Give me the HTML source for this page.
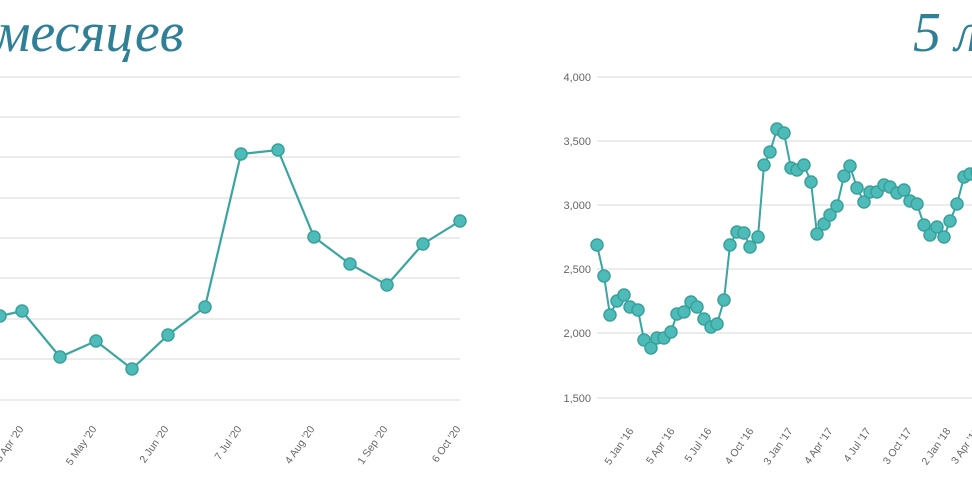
<!DOCTYPE html>
<html><head><meta charset="utf-8"><style>
html,body{margin:0;padding:0;background:#fff;width:972px;height:486px;overflow:hidden}
svg{display:block}
.t{font-family:"Liberation Serif","DejaVu Serif",serif;font-style:italic;fill:#2f7f96}
.lab{font-family:"Liberation Sans","DejaVu Sans",sans-serif;font-size:10.5px;fill:#666}
</style></head><body>
<svg width="972" height="486" viewBox="0 0 972 486" xmlns="http://www.w3.org/2000/svg">
<text class="t" x="184" y="51" font-size="56" text-anchor="end">6 месяцев</text>
<text class="t" x="913" y="51" font-size="56">5 лет</text>
<g stroke="#ececec" stroke-width="2">
<line x1="0" x2="460" y1="77" y2="77"/><line x1="0" x2="460" y1="117" y2="117"/>
<line x1="0" x2="460" y1="157" y2="157"/><line x1="0" x2="460" y1="198" y2="198"/>
<line x1="0" x2="460" y1="238" y2="238"/><line x1="0" x2="460" y1="278" y2="278"/>
<line x1="0" x2="460" y1="319" y2="319"/><line x1="0" x2="460" y1="359" y2="359"/>
<line x1="0" x2="460" y1="400" y2="400"/>
<line x1="597" x2="972" y1="77" y2="77"/><line x1="597" x2="972" y1="141" y2="141"/>
<line x1="597" x2="972" y1="205" y2="205"/><line x1="597" x2="972" y1="269" y2="269"/>
<line x1="597" x2="972" y1="333" y2="333"/><line x1="597" x2="972" y1="398" y2="398"/>
</g>
<g class="lab" text-anchor="end" style="font-size:11px">
<text x="591" y="81">4,000</text><text x="591" y="145">3,500</text>
<text x="591" y="209">3,000</text><text x="591" y="273">2,500</text>
<text x="591" y="337">2,000</text><text x="591" y="402">1,500</text>
</g>
<g class="lab" text-anchor="end">
<text transform="translate(24,429) rotate(-55)">5 Apr '20</text>
<text transform="translate(97,429) rotate(-55)">5 May '20</text>
<text transform="translate(169,429) rotate(-55)">2 Jun '20</text>
<text transform="translate(242,429) rotate(-55)">7 Jul '20</text>
<text transform="translate(315,429) rotate(-55)">4 Aug '20</text>
<text transform="translate(388,429) rotate(-55)">1 Sep '20</text>
<text transform="translate(461,429) rotate(-55)">6 Oct '20</text>
<text transform="translate(634,431) rotate(-55)">5 Jan '16</text>
<text transform="translate(675,431) rotate(-55)">5 Apr '16</text>
<text transform="translate(712,431) rotate(-55)">5 Jul '16</text>
<text transform="translate(754,431) rotate(-55)">4 Oct '16</text>
<text transform="translate(793,431) rotate(-55)">3 Jan '17</text>
<text transform="translate(833,431) rotate(-55)">4 Apr '17</text>
<text transform="translate(871,431) rotate(-55)">4 Jul '17</text>
<text transform="translate(912,431) rotate(-55)">3 Oct '17</text>
<text transform="translate(951,431) rotate(-55)">2 Jan '18</text>
<text transform="translate(980,431) rotate(-55)">3 Apr '18</text>
</g>
<polyline fill="none" stroke="#3aa5a1" stroke-width="2.2" points="-14,319 0,316 22,311 60,357 96,341 132,369 168,335 205,307 241,154 278,150 314,237 350,264 387,285 423,244 460,221"/>
<polyline fill="none" stroke="#3aa5a1" stroke-width="2" points="597,245 604,276 610,315 617,301 624,295 630,307 638,310 644,340 651,348 657,338 664,338 671,332 677,314 684,312 691,302 697,307 704,319 711,327 717,324 724,300 730,245 737,232 744,233 750,247 758,237 764,165 770,152 777,129 784,133 791,168 797,170 804,165 811,182 817,234 824,224 830,215 837,206 844,176 850,166 857,188 864,202 870,192 877,192 884,185 890,187 897,193 904,190 910,201 917,204 924,225 930,235 937,227 944,237 950,221 957,204 964,177 970,174 977,172"/>
<g fill="#4dbcb8" stroke="#39a09c" stroke-width="1.5">
<circle cx="0" cy="316" r="6"/><circle cx="22" cy="311" r="6"/><circle cx="60" cy="357" r="6"/><circle cx="96" cy="341" r="6"/><circle cx="132" cy="369" r="6"/><circle cx="168" cy="335" r="6"/><circle cx="205" cy="307" r="6"/><circle cx="241" cy="154" r="6"/><circle cx="278" cy="150" r="6"/><circle cx="314" cy="237" r="6"/><circle cx="350" cy="264" r="6"/><circle cx="387" cy="285" r="6"/><circle cx="423" cy="244" r="6"/><circle cx="460" cy="221" r="6"/>
</g>
<g fill="#4dbcb8" stroke="#39a09c" stroke-width="1.5">
<circle cx="597" cy="245" r="6"/><circle cx="604" cy="276" r="6"/><circle cx="610" cy="315" r="6"/><circle cx="617" cy="301" r="6"/><circle cx="624" cy="295" r="6"/><circle cx="630" cy="307" r="6"/><circle cx="638" cy="310" r="6"/><circle cx="644" cy="340" r="6"/><circle cx="651" cy="348" r="6"/><circle cx="657" cy="338" r="6"/><circle cx="664" cy="338" r="6"/><circle cx="671" cy="332" r="6"/><circle cx="677" cy="314" r="6"/><circle cx="684" cy="312" r="6"/><circle cx="691" cy="302" r="6"/><circle cx="697" cy="307" r="6"/><circle cx="704" cy="319" r="6"/><circle cx="711" cy="327" r="6"/><circle cx="717" cy="324" r="6"/><circle cx="724" cy="300" r="6"/><circle cx="730" cy="245" r="6"/><circle cx="737" cy="232" r="6"/><circle cx="744" cy="233" r="6"/><circle cx="750" cy="247" r="6"/><circle cx="758" cy="237" r="6"/><circle cx="764" cy="165" r="6"/><circle cx="770" cy="152" r="6"/><circle cx="777" cy="129" r="6"/><circle cx="784" cy="133" r="6"/><circle cx="791" cy="168" r="6"/><circle cx="797" cy="170" r="6"/><circle cx="804" cy="165" r="6"/><circle cx="811" cy="182" r="6"/><circle cx="817" cy="234" r="6"/><circle cx="824" cy="224" r="6"/><circle cx="830" cy="215" r="6"/><circle cx="837" cy="206" r="6"/><circle cx="844" cy="176" r="6"/><circle cx="850" cy="166" r="6"/><circle cx="857" cy="188" r="6"/><circle cx="864" cy="202" r="6"/><circle cx="870" cy="192" r="6"/><circle cx="877" cy="192" r="6"/><circle cx="884" cy="185" r="6"/><circle cx="890" cy="187" r="6"/><circle cx="897" cy="193" r="6"/><circle cx="904" cy="190" r="6"/><circle cx="910" cy="201" r="6"/><circle cx="917" cy="204" r="6"/><circle cx="924" cy="225" r="6"/><circle cx="930" cy="235" r="6"/><circle cx="937" cy="227" r="6"/><circle cx="944" cy="237" r="6"/><circle cx="950" cy="221" r="6"/><circle cx="957" cy="204" r="6"/><circle cx="964" cy="177" r="6"/><circle cx="970" cy="174" r="6"/><circle cx="977" cy="172" r="6"/>
</g>
</svg>
</body></html>
